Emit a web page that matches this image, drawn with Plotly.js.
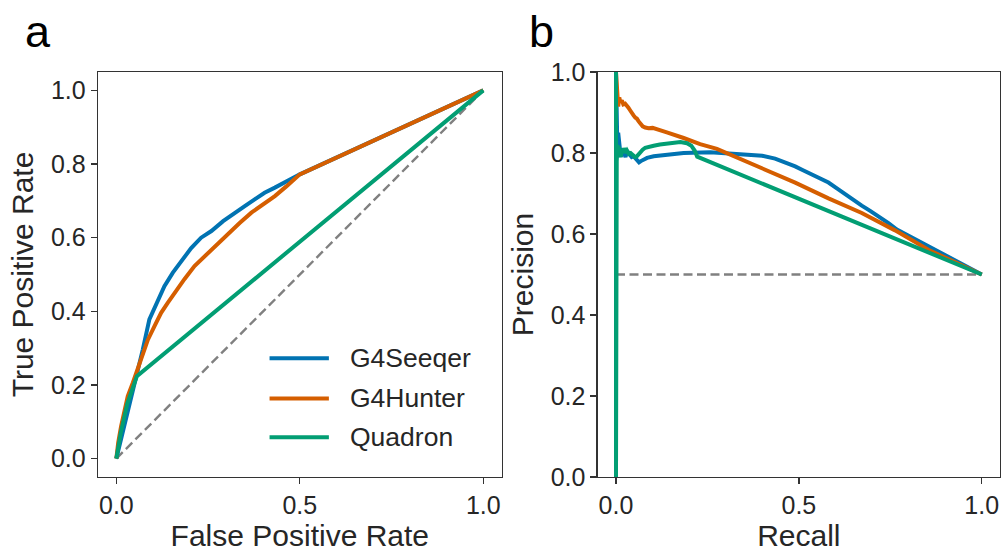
<!DOCTYPE html>
<html>
<head>
<meta charset="utf-8">
<script src="https://cdn.plot.ly/plotly-3.0.1.min.js"></script>
<style>
  html, body { margin: 0; padding: 0; background: #ffffff; }
  #chart { width: 1006px; height: 552px; }
</style>
</head>
<body>
<div id="chart"></div>
<script>
// Model names and colours
const models = ["G4Seeqer", "G4Hunter", "Quadron"];
const modelColors = ["#0173b2", "#d55e00", "#029e73"];

// ROC curves (false positive rate, true positive rate)
const fprSeeqer = [0, 0.017, 0.036, 0.054, 0.072, 0.090, 0.113, 0.131, 0.154, 0.177, 0.204, 0.231, 0.259, 0.291, 0.322, 0.350, 0.377, 0.404, 0.432, 0.464, 0.5, 1];
const tprSeeqer = [0, 0.070, 0.142, 0.215, 0.296, 0.378, 0.432, 0.468, 0.505, 0.536, 0.572, 0.600, 0.618, 0.645, 0.668, 0.686, 0.704, 0.722, 0.736, 0.754, 0.772, 1];

const fprHunter = [0, 0.005, 0.013, 0.022, 0.031, 0.045, 0.058, 0.072, 0.086, 0.104, 0.122, 0.140, 0.158, 0.186, 0.213, 0.236, 0.259, 0.281, 0.304, 0.336, 0.368, 0.400, 0.432, 0.464, 0.5, 1];
const tprHunter = [0, 0.043, 0.088, 0.133, 0.169, 0.206, 0.242, 0.283, 0.323, 0.360, 0.396, 0.423, 0.450, 0.488, 0.523, 0.545, 0.568, 0.591, 0.613, 0.640, 0.668, 0.690, 0.713, 0.740, 0.772, 1];

const fprQuadron = [0, 0.012, 0.03, 0.056, 1];
const tprQuadron = [0, 0.07, 0.15, 0.224, 1];

// Chance diagonal
const rocChanceX = [0, 1];
const rocChanceY = [0, 1];

// Precision-recall curves
const recallSeeqer = [0, 0.004, 0.006, 0.008, 0.010, 0.013, 0.016, 0.019, 0.022, 0.026, 0.030, 0.034, 0.038, 0.043, 0.048, 0.053, 0.058, 0.063, 0.068, 0.075, 0.085, 0.103, 0.139, 0.185, 0.258, 0.300, 0.367, 0.400, 0.435, 0.460, 0.490, 0.510, 0.535, 0.560, 0.581, 0.605, 0.626, 0.650, 0.672, 0.695, 0.718, 0.745, 0.768, 1];
const precisionSeeqer = [1, 0.80, 0.85, 0.83, 0.80, 0.79, 0.81, 0.795, 0.80, 0.79, 0.805, 0.80, 0.795, 0.79, 0.792, 0.787, 0.78, 0.777, 0.78, 0.784, 0.788, 0.792, 0.796, 0.800, 0.802, 0.800, 0.797, 0.793, 0.786, 0.778, 0.767, 0.758, 0.747, 0.737, 0.727, 0.712, 0.698, 0.684, 0.670, 0.657, 0.644, 0.627, 0.611, 0.5];

const recallHunter = [0, 0.003, 0.006, 0.009, 0.012, 0.016, 0.020, 0.025, 0.030, 0.034, 0.039, 0.044, 0.048, 0.053, 0.057, 0.062, 0.066, 0.073, 0.080, 0.089, 0.100, 0.112, 0.139, 0.185, 0.230, 0.276, 0.321, 0.399, 0.490, 0.581, 0.672, 0.763, 0.854, 1];
const precisionHunter = [1, 0.94, 0.915, 0.937, 0.925, 0.93, 0.92, 0.922, 0.918, 0.912, 0.905, 0.895, 0.893, 0.887, 0.885, 0.878, 0.872, 0.866, 0.863, 0.861, 0.862, 0.858, 0.851, 0.837, 0.822, 0.810, 0.793, 0.761, 0.727, 0.688, 0.652, 0.609, 0.561, 0.5];

const recallQuadron = [0, 0, 0.002, 0.004, 0.006, 0.008, 0.010, 0.013, 0.016, 0.019, 0.022, 0.026, 0.030, 0.035, 0.040, 0.046, 0.052, 0.057, 0.062, 0.066, 0.073, 0.080, 0.090, 0.103, 0.120, 0.139, 0.158, 0.176, 0.194, 0.206, 0.215, 0.222, 1];
const precisionQuadron = [1, 0, 0.78, 0.82, 0.80, 0.815, 0.805, 0.79, 0.81, 0.80, 0.812, 0.80, 0.806, 0.798, 0.80, 0.795, 0.790, 0.792, 0.797, 0.803, 0.808, 0.813, 0.816, 0.818, 0.821, 0.823, 0.826, 0.827, 0.824, 0.818, 0.806, 0.791, 0.5];

// Baseline precision (balanced classes)
const prChanceX = [0, 1];
const prChanceY = [0.5, 0.5];

// Tick labels
const xTickVals = [0, 0.5, 1];
const xTickText = ["0.0", "0.5", "1.0"];
const yTickVals = [0, 0.2, 0.4, 0.6, 0.8, 1.0];
const yTickText = ["0.0", "0.2", "0.4", "0.6", "0.8", "1.0"];

const FONT = "Liberation Sans, Arial, Helvetica, sans-serif";
const INK = "#262626";
const FRAME = "#333333";
const CURVE_W = 4;

const rocSets = [[fprSeeqer, tprSeeqer], [fprHunter, tprHunter], [fprQuadron, tprQuadron]];
const prSets = [[recallSeeqer, precisionSeeqer], [recallHunter, precisionHunter], [recallQuadron, precisionQuadron]];

const dashLine = { color: "#808080", width: 2.4, dash: "9px,4.5px" };

const traces = [
  { x: rocChanceX, y: rocChanceY, xaxis: "x", yaxis: "y", mode: "lines", line: dashLine, showlegend: false, hoverinfo: "skip" },
  { x: prChanceX, y: prChanceY, xaxis: "x2", yaxis: "y2", mode: "lines", line: dashLine, showlegend: false, hoverinfo: "skip" }
];

models.forEach((name, i) => {
  traces.push({
    x: rocSets[i][0], y: rocSets[i][1], xaxis: "x", yaxis: "y",
    mode: "lines", name: name, showlegend: false,
    line: { color: modelColors[i], width: CURVE_W, shape: "linear" }
  });
});
models.forEach((name, i) => {
  traces.push({
    x: prSets[i][0], y: prSets[i][1], xaxis: "x2", yaxis: "y2",
    mode: "lines", name: name, showlegend: false,
    line: { color: modelColors[i], width: CURVE_W, shape: "linear" }
  });
});

function axis(extra) {
  return Object.assign({
    showgrid: false, zeroline: false,
    showline: true, mirror: true, linecolor: FRAME, linewidth: 1.3,
    ticks: "outside", ticklen: 6, tickwidth: 1.3, tickcolor: FRAME,
    tickfont: { family: FONT, size: 25, color: INK },
    tickmode: "array"
  }, extra);
}

function axisTitle(text, standoff) {
  return { text: text, font: { family: FONT, size: 30, color: INK }, standoff: standoff };
}

// Legend drawn inside the ROC panel
const legendRows = [0.293, 0.194, 0.098];
const shapes = [];
const annotations = [];
models.forEach((name, i) => {
  shapes.push({
    type: "line", xref: "x domain", yref: "y domain",
    x0: 0.425, x1: 0.572, y0: legendRows[i], y1: legendRows[i],
    line: { color: modelColors[i], width: CURVE_W }
  });
  annotations.push({
    xref: "x domain", yref: "y domain", x: 0.619, y: legendRows[i],
    xanchor: "left", yanchor: "middle", showarrow: false,
    text: name, font: { family: FONT, size: 26.5, color: INK }
  });
});

// Panel letters
annotations.push({
  xref: "paper", yref: "paper", x: -0.083, y: 1.10, xanchor: "left", yanchor: "middle",
  showarrow: false, text: "a", font: { family: FONT, size: 45, color: "#000000" }
});
annotations.push({
  xref: "paper", yref: "paper", x: 0.476, y: 1.10, xanchor: "left", yanchor: "middle",
  showarrow: false, text: "b", font: { family: FONT, size: 45, color: "#000000" }
});

const layout = {
  width: 1006, height: 552,
  margin: { l: 98, r: 6, t: 72, b: 75 },
  paper_bgcolor: "#ffffff", plot_bgcolor: "#ffffff",
  showlegend: false,
  xaxis: axis({ domain: [0, 0.4475], range: [-0.05, 1.05], tickvals: xTickVals, ticktext: xTickText,
                title: axisTitle("False Positive Rate", 3) }),
  yaxis: axis({ domain: [0, 1], range: [-0.05, 1.05], tickvals: yTickVals, ticktext: yTickText,
                title: axisTitle("True Positive Rate", 8) }),
  xaxis2: axis({ domain: [0.554, 1], range: [-0.05, 1.05], tickvals: xTickVals, ticktext: xTickText, anchor: "y2",
                 title: axisTitle("Recall", 3) }),
  yaxis2: axis({ domain: [0, 1], range: [0, 1], tickvals: yTickVals, ticktext: yTickText, anchor: "x2",
                 title: axisTitle("Precision", 8) }),
  shapes: shapes,
  annotations: annotations
};

Plotly.newPlot("chart", traces, layout, { staticPlot: true, displayModeBar: false });
</script>
</body>
</html>
